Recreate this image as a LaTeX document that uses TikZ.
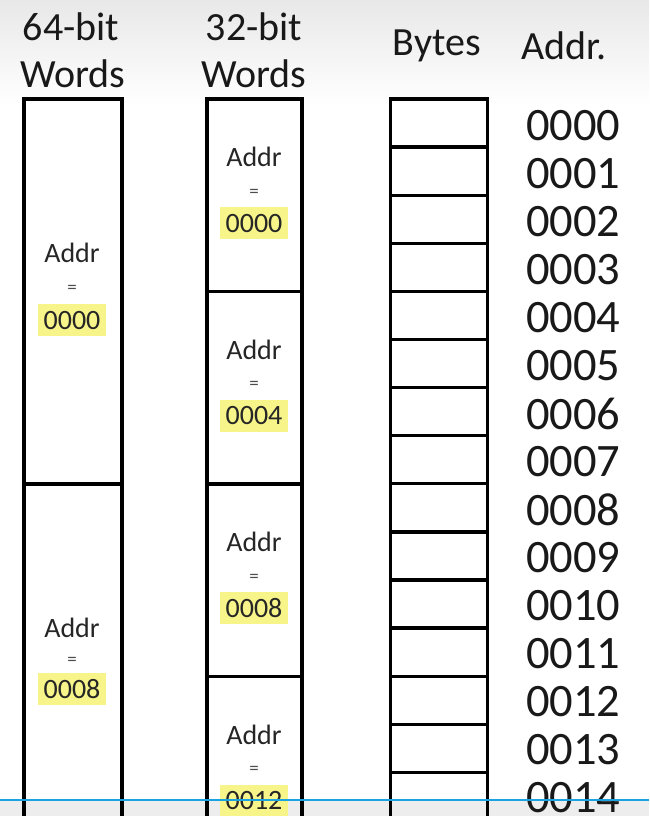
\documentclass[tikz,border=0pt]{standalone}
\usepackage{fontspec}
\setmainfont{Carlito}
\definecolor{hl}{HTML}{F7F48A}
\definecolor{bluel}{HTML}{1AA3E0}
\begin{document}
\begin{tikzpicture}[x=1pt,y=-1pt,
  cell/.style={draw=black,line width=3.3pt,inner sep=0pt},
  head/.style={font=\fontsize{40}{40}\selectfont,inner sep=0pt,text=black!90},
  addr/.style={font=\fontsize{46.5}{46.5}\selectfont,anchor=west,inner sep=0pt,text=black!90},
  lab/.style={font=\fontsize{28}{28}\selectfont,inner sep=0pt,text=black!85},
  eq/.style={font=\fontsize{19}{19}\selectfont,inner sep=0pt,text=black!70},
  val/.style={font=\fontsize{28}{28}\selectfont,fill=hl,inner xsep=6pt,inner ysep=7pt,
     text height=18pt,text depth=0pt,text=black!85}]
\useasboundingbox (0,0) rectangle (649,816);
\clip (0,0) rectangle (649,816);
\shade[top color=black!9, bottom color=white] (0,0) rectangle (649,105);
\fill[black!7] (0,800) rectangle (649,816);
% headers
\node[head] (h64a) at (71,27) {64-bit};
\node[head] (h64b) at (73,74) {Words};
\node[head] (h32a) at (254,27) {32-bit};
\node[head] (h32b) at (254,74) {Words};
\node[head] (hby) at (437,46) {Bytes};
\node[head] (had) at (564,46) {Addr.};
% 64-bit words
\node[cell,minimum width=98,minimum height=385] (wa) at (73,291.5) {};
\node[cell,minimum width=98,minimum height=385] (wb) at (73,676.5) {};
\node[lab] (wal) at (72,253) {Addr};
\node[eq] (wae) at (72,289) {=};
\node[val] (wav) at (72,320) {0000};
\node[lab] (wbl) at (72,628) {Addr};
\node[eq] (wbe) at (72,661) {=};
\node[val] (wbv) at (72,689) {0008};
% 32-bit words
\foreach \i/\v in {0/0000,1/0004,2/0008,3/0012}{
  \node[cell,minimum width=95,minimum height=192.5] (d\i) at (254.5,195.25+192.5*\i) {};
  \node[lab] (dl\i) at (254,157+192.5*\i) {Addr};
  \node[eq] (de\i) at (254,193+192.5*\i) {=};
  \node[val] (dv\i) at (254,223+192.5*\i) {\v};
}
% bytes
\foreach \i in {0,...,15}{
  \node[cell,minimum width=97,minimum height=48.1] (b\i) at (439,123+48.1*\i) {};
}
\foreach \i/\t in {0/0000,1/0001,2/0002,3/0003,4/0004,5/0005,6/0006,7/0007,8/0008,9/0009,10/0010,11/0011,12/0012,13/0013,14/0014}{
  \node[addr] (a\i) at (526,126+48.0*\i) {\t};
}
\draw[bluel,line width=2.5pt] (0,800) -- (649,800);
\end{tikzpicture}
\end{document}
